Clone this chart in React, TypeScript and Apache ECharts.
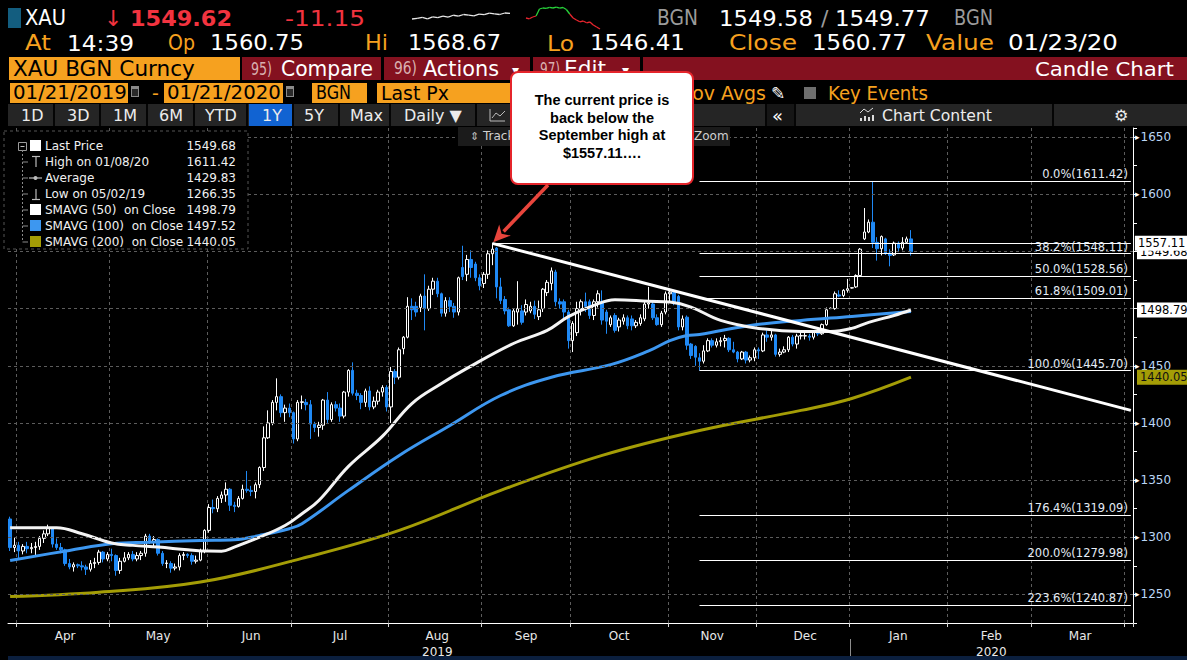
import React, { useEffect, useRef } from "react";
import * as echarts from "echarts";

// ---------- DATA ----------
const FIRST_DAY = "2019-03-28";
const LAST_DAY = "2020-04-02";

function weekdayList(from: string, to: string): string[] {
  const out: string[] = [];
  const d = new Date(from + "T00:00:00Z");
  const end = new Date(to + "T00:00:00Z");
  while (d <= end) {
    const wd = d.getUTCDay();
    if (wd !== 0 && wd !== 6) out.push(d.toISOString().slice(0, 10));
    d.setUTCDate(d.getUTCDate() + 1);
  }
  return out;
}
const categories = weekdayList(FIRST_DAY, LAST_DAY);
const monthNames = ["Jan", "Feb", "Mar", "Apr", "May", "Jun", "Jul", "Aug", "Sep", "Oct", "Nov", "Dec"];

// date, open, close, low, high
const ohlc: [string, number, number, number, number][] = [
  ["2019-03-28", 1316, 1291, 1288, 1318],
  ["2019-03-29", 1291, 1293, 1287, 1300],
  ["2019-04-01", 1293, 1288, 1281, 1296],
  ["2019-04-02", 1288, 1292, 1285, 1294],
  ["2019-04-03", 1292, 1290, 1286, 1296],
  ["2019-04-04", 1290, 1291, 1286, 1295],
  ["2019-04-05", 1291, 1292, 1284, 1296],
  ["2019-04-08", 1292, 1299, 1289, 1301],
  ["2019-04-09", 1299, 1303, 1295, 1306],
  ["2019-04-10", 1303, 1308, 1301, 1311],
  ["2019-04-11", 1308, 1294, 1291, 1309],
  ["2019-04-12", 1294, 1291, 1289, 1299],
  ["2019-04-15", 1291, 1289, 1286, 1295],
  ["2019-04-16", 1289, 1277, 1275, 1290],
  ["2019-04-17", 1277, 1274, 1272, 1281],
  ["2019-04-18", 1274, 1276, 1270, 1278],
  ["2019-04-19", 1276, 1275, 1273, 1277],
  ["2019-04-22", 1275, 1274, 1271, 1279],
  ["2019-04-23", 1274, 1272, 1267, 1276],
  ["2019-04-24", 1272, 1277, 1270, 1280],
  ["2019-04-25", 1277, 1278, 1273, 1282],
  ["2019-04-26", 1278, 1287, 1276, 1289],
  ["2019-04-29", 1287, 1281, 1278, 1288],
  ["2019-04-30", 1281, 1285, 1279, 1287],
  ["2019-05-01", 1285, 1284, 1279, 1290],
  ["2019-05-02", 1284, 1271, 1266.35, 1285],
  ["2019-05-03", 1271, 1279, 1268, 1282],
  ["2019-05-06", 1279, 1282, 1278, 1287],
  ["2019-05-07", 1282, 1285, 1280, 1287],
  ["2019-05-08", 1285, 1281, 1279, 1288],
  ["2019-05-09", 1281, 1284, 1279, 1287],
  ["2019-05-10", 1284, 1286, 1280, 1288],
  ["2019-05-13", 1286, 1301, 1283, 1303],
  ["2019-05-14", 1301, 1296, 1294, 1303],
  ["2019-05-15", 1296, 1298, 1292, 1301],
  ["2019-05-16", 1298, 1286, 1284, 1299],
  ["2019-05-17", 1286, 1277, 1275, 1288],
  ["2019-05-20", 1277, 1277.5, 1273, 1280],
  ["2019-05-21", 1277, 1273, 1269, 1279],
  ["2019-05-22", 1273, 1274, 1271, 1277],
  ["2019-05-23", 1274, 1284, 1271, 1286],
  ["2019-05-24", 1284, 1285, 1280, 1287],
  ["2019-05-27", 1285, 1284, 1282, 1286],
  ["2019-05-28", 1284, 1279, 1276, 1286],
  ["2019-05-29", 1279, 1280, 1277, 1284],
  ["2019-05-30", 1280, 1288, 1279, 1290],
  ["2019-05-31", 1288, 1306, 1286, 1307],
  ["2019-06-03", 1306, 1326, 1304, 1329],
  ["2019-06-04", 1326, 1325, 1321, 1333],
  ["2019-06-05", 1325, 1334, 1322, 1336],
  ["2019-06-06", 1334, 1337, 1330, 1340],
  ["2019-06-07", 1337, 1342, 1331, 1348],
  ["2019-06-10", 1342, 1328, 1323, 1343],
  ["2019-06-11", 1328, 1327, 1322, 1331],
  ["2019-06-12", 1327, 1334, 1326, 1336],
  ["2019-06-13", 1334, 1342, 1333, 1346],
  ["2019-06-14", 1342, 1341, 1339, 1358],
  ["2019-06-17", 1341, 1340, 1336, 1345],
  ["2019-06-18", 1340, 1346, 1334, 1348],
  ["2019-06-19", 1346, 1361, 1343, 1362],
  ["2019-06-20", 1361, 1387, 1358, 1397],
  ["2019-06-21", 1387, 1400, 1386, 1411],
  ["2019-06-24", 1400, 1418, 1398, 1420],
  ["2019-06-25", 1418, 1423, 1411, 1439],
  ["2019-06-26", 1423, 1409, 1405, 1425],
  ["2019-06-27", 1409, 1413, 1401, 1416],
  ["2019-06-28", 1413, 1409, 1405, 1417],
  ["2019-07-01", 1409, 1386, 1382, 1410],
  ["2019-07-02", 1386, 1418, 1384, 1420],
  ["2019-07-03", 1418, 1418.5, 1412, 1424],
  ["2019-07-04", 1418, 1416, 1411, 1421],
  ["2019-07-05", 1416, 1399, 1386, 1420],
  ["2019-07-08", 1399, 1396, 1392, 1401],
  ["2019-07-09", 1396, 1398, 1388, 1401],
  ["2019-07-10", 1398, 1420, 1394, 1421],
  ["2019-07-11", 1420, 1403, 1400, 1427],
  ["2019-07-12", 1403, 1416, 1401, 1418],
  ["2019-07-15", 1416, 1413, 1410, 1419],
  ["2019-07-16", 1413, 1406, 1401, 1417],
  ["2019-07-17", 1406, 1427, 1404, 1428],
  ["2019-07-18", 1427, 1446, 1423, 1447],
  ["2019-07-19", 1446, 1426, 1424, 1453],
  ["2019-07-22", 1426, 1424, 1420, 1429],
  ["2019-07-23", 1424, 1418, 1412, 1426],
  ["2019-07-24", 1418, 1428, 1414, 1430],
  ["2019-07-25", 1428, 1414, 1411, 1432],
  ["2019-07-26", 1414, 1419, 1412, 1423],
  ["2019-07-29", 1419, 1427, 1416, 1429],
  ["2019-07-30", 1427, 1431, 1423, 1433],
  ["2019-07-31", 1431, 1414, 1410, 1433],
  ["2019-08-01", 1414, 1445, 1400, 1449],
  ["2019-08-02", 1445, 1440, 1434, 1447],
  ["2019-08-05", 1440, 1464, 1438, 1466],
  ["2019-08-06", 1465, 1475, 1460, 1476],
  ["2019-08-07", 1475, 1502, 1474, 1510],
  ["2019-08-08", 1502, 1499, 1490, 1509],
  ["2019-08-09", 1502, 1497, 1493, 1506],
  ["2019-08-12", 1501, 1511, 1497, 1513],
  ["2019-08-13", 1511, 1500, 1481, 1530],
  ["2019-08-14", 1500, 1517, 1498, 1520],
  ["2019-08-15", 1517, 1524, 1512, 1527],
  ["2019-08-16", 1524, 1513, 1510, 1527],
  ["2019-08-19", 1513, 1496, 1493, 1514],
  ["2019-08-20", 1496, 1507, 1493, 1510],
  ["2019-08-21", 1507, 1502, 1497, 1510],
  ["2019-08-22", 1502, 1497, 1492, 1505],
  ["2019-08-23", 1497, 1527, 1494, 1528],
  ["2019-08-26", 1536, 1528, 1525, 1555],
  ["2019-08-27", 1530, 1543, 1524, 1547],
  ["2019-08-28", 1543, 1536, 1527, 1551],
  ["2019-08-29", 1539, 1527, 1524, 1541],
  ["2019-08-30", 1527, 1520, 1516, 1530],
  ["2019-09-02", 1522, 1530, 1518, 1532],
  ["2019-09-03", 1530, 1548, 1526, 1551],
  ["2019-09-04", 1548, 1552, 1538, 1557.11],
  ["2019-09-05", 1553, 1519, 1509, 1554],
  ["2019-09-06", 1519, 1507, 1504, 1527],
  ["2019-09-09", 1508, 1498, 1495, 1511],
  ["2019-09-10", 1499, 1485, 1484, 1501],
  ["2019-09-11", 1485, 1498, 1484, 1500],
  ["2019-09-12", 1497, 1500, 1486, 1524],
  ["2019-09-13", 1498, 1488, 1486, 1503],
  ["2019-09-16", 1497, 1503.6, 1494, 1508],
  ["2019-09-17", 1498, 1502, 1496, 1506],
  ["2019-09-18", 1502, 1495, 1491, 1507],
  ["2019-09-19", 1493, 1499, 1490, 1507],
  ["2019-09-20", 1500, 1517, 1497, 1518],
  ["2019-09-23", 1514, 1523, 1511, 1525],
  ["2019-09-24", 1522, 1533, 1516, 1536],
  ["2019-09-25", 1532, 1506, 1502, 1534],
  ["2019-09-26", 1506, 1504, 1500, 1509],
  ["2019-09-27", 1506, 1497, 1491, 1508],
  ["2019-09-30", 1497, 1472, 1465, 1499],
  ["2019-10-01", 1472, 1487, 1462, 1489],
  ["2019-10-02", 1479, 1500, 1476, 1506],
  ["2019-10-03", 1500, 1506, 1494, 1508],
  ["2019-10-04", 1506, 1502, 1497, 1514],
  ["2019-10-07", 1506, 1494, 1491, 1508],
  ["2019-10-08", 1494, 1506, 1490, 1508],
  ["2019-10-09", 1506, 1513, 1501, 1516],
  ["2019-10-10", 1506, 1490, 1486, 1516],
  ["2019-10-11", 1497, 1489, 1478, 1499],
  ["2019-10-14", 1486, 1492, 1484, 1494],
  ["2019-10-15", 1494, 1481, 1479, 1496],
  ["2019-10-16", 1484, 1490, 1480, 1492],
  ["2019-10-17", 1489, 1492, 1486, 1495],
  ["2019-10-18", 1492, 1485, 1482, 1494],
  ["2019-10-21", 1491, 1485, 1481, 1494],
  ["2019-10-22", 1485, 1488, 1483, 1490],
  ["2019-10-23", 1487, 1492, 1485, 1495],
  ["2019-10-24", 1491, 1504, 1489, 1507],
  ["2019-10-25", 1504, 1505, 1500, 1519],
  ["2019-10-28", 1504, 1492, 1490, 1506],
  ["2019-10-29", 1492, 1486, 1485, 1495],
  ["2019-10-30", 1486, 1496, 1484, 1498],
  ["2019-10-31", 1497, 1513, 1495, 1515],
  ["2019-11-01", 1513, 1514.4, 1505, 1517],
  ["2019-11-04", 1514, 1505, 1503, 1516],
  ["2019-11-05", 1510.6, 1484, 1481, 1512],
  ["2019-11-06", 1484, 1491, 1481, 1494],
  ["2019-11-07", 1492.5, 1468, 1464, 1494],
  ["2019-11-08", 1469, 1459, 1456, 1470],
  ["2019-11-11", 1467, 1457.5, 1450, 1468],
  ["2019-11-12", 1457, 1454, 1445.7, 1461],
  ["2019-11-13", 1454, 1463, 1452, 1468],
  ["2019-11-14", 1463, 1472, 1462, 1474],
  ["2019-11-15", 1472, 1468, 1466, 1474],
  ["2019-11-18", 1468, 1471, 1466, 1474],
  ["2019-11-19", 1471, 1472, 1467, 1475],
  ["2019-11-20", 1472, 1474, 1466, 1477],
  ["2019-11-21", 1474, 1464, 1462, 1475],
  ["2019-11-22", 1464, 1462, 1461, 1471],
  ["2019-11-25", 1462, 1456, 1453, 1463],
  ["2019-11-26", 1456, 1462, 1455, 1463],
  ["2019-11-27", 1462, 1455, 1452, 1463],
  ["2019-11-28", 1455, 1457, 1453, 1459],
  ["2019-11-29", 1457, 1464, 1454, 1466],
  ["2019-12-02", 1464, 1463, 1456, 1466],
  ["2019-12-03", 1463, 1477, 1462, 1479],
  ["2019-12-04", 1477, 1475, 1471, 1481],
  ["2019-12-05", 1475, 1477, 1472, 1482],
  ["2019-12-06", 1477, 1460, 1458, 1478],
  ["2019-12-09", 1460, 1462, 1458, 1465],
  ["2019-12-10", 1462, 1464, 1461, 1467],
  ["2019-12-11", 1464, 1475, 1462, 1476],
  ["2019-12-12", 1475, 1469, 1467, 1477],
  ["2019-12-13", 1469, 1476, 1465, 1478],
  ["2019-12-16", 1476, 1476.5, 1473, 1479],
  ["2019-12-17", 1476, 1476.4, 1473, 1479],
  ["2019-12-18", 1476, 1475, 1472, 1478],
  ["2019-12-19", 1475, 1479, 1473, 1481],
  ["2019-12-20", 1479, 1478, 1476, 1481],
  ["2019-12-23", 1478, 1486, 1477, 1487],
  ["2019-12-24", 1486, 1499, 1485, 1501],
  ["2019-12-25", 1500, 1500.4, 1499.8, 1501],
  ["2019-12-26", 1500, 1513, 1499, 1515],
  ["2019-12-27", 1512, 1511, 1510, 1516],
  ["2019-12-30", 1511.5, 1516, 1510, 1517],
  ["2019-12-31", 1516, 1517.4, 1514, 1526],
  ["2020-01-01", 1518, 1518.3, 1517.6, 1518.6],
  ["2020-01-02", 1519, 1529, 1518, 1530],
  ["2020-01-03", 1529, 1552, 1528, 1553],
  ["2020-01-06", 1561, 1567, 1560, 1588],
  ["2020-01-07", 1567, 1575.6, 1566, 1578],
  ["2020-01-08", 1575.6, 1558, 1553, 1611.42],
  ["2020-01-09", 1558, 1552.4, 1542, 1562.5],
  ["2020-01-10", 1552.4, 1563, 1546.5, 1564],
  ["2020-01-13", 1561, 1548, 1547, 1562],
  ["2020-01-14", 1548.5, 1546.5, 1537, 1552],
  ["2020-01-15", 1547, 1557.3, 1546, 1558.7],
  ["2020-01-16", 1557.3, 1553, 1549.4, 1558.7],
  ["2020-01-17", 1553, 1558, 1551, 1562.5],
  ["2020-01-20", 1558, 1561, 1556.7, 1563],
  ["2020-01-21", 1561, 1549.68, 1546.41, 1568.67],
];

// moving averages: [category index, value]
const sma50: [number, number][] = [
  [0, 1308.3], [11, 1308.3], [17, 1303.1], [24, 1295], [29, 1292.9], [35, 1291.4], [42, 1289.1],
  [47, 1287.9], [50, 1287.8], [53, 1291.4], [59, 1300.1], [65, 1310.3], [69, 1320.6], [73, 1332.2],
  [80, 1362], [88, 1388.2], [95, 1417], [102, 1434.5], [108, 1447.7], [119, 1469.5], [127, 1481],
  [132, 1493], [138, 1502.8], [143, 1507.8], [151, 1506.5], [156, 1505.7], [161, 1501.3],
  [168, 1489.7], [177, 1482.7], [187, 1480], [194, 1480], [199, 1482.7], [203, 1488], [209, 1494],
  [213, 1498.79],
];
const sma100: [number, number][] = [
  [0, 1279.7], [14, 1288.5], [24, 1294.3], [33, 1295.7], [45, 1297.2], [53, 1297.8], [59, 1301.6],
  [66, 1307.5], [69, 1311.8], [80, 1341], [92, 1371.6], [104, 1397.8], [116, 1424], [128, 1440],
  [142, 1451], [151, 1463], [156, 1472], [160, 1476.5], [163, 1477.4], [175, 1485.3],
  [187, 1489.7], [199, 1493.2], [213, 1497.52],
];
const sma200: [number, number][] = [
  [0, 1248.2], [21, 1252], [45, 1260.8], [69, 1281.5], [92, 1306], [116, 1341], [140, 1371.6],
  [163, 1393.4], [187, 1411], [199, 1421.4], [213, 1440.05],
];

const gridLevels = [1250, 1300, 1350, 1400, 1450, 1500, 1550, 1600, 1650];
const hiddenAxisLabels = [1500, 1550]; // covered by the price tags in the picture
const fibPcts = ["0.0%", "38.2%", "50.0%", "61.8%", "100.0%", "176.4%", "200.0%", "223.6%"];
const fibLevels = [1611.42, 1548.11, 1528.56, 1509.01, 1445.7, 1319.09, 1279.98, 1240.87];
const fibStartDate = "2019-11-12";
const septHighDate = "2019-09-04";
const septHigh = 1557.11;
const trendEndValue = 1411;
const lastPrice = 1549.68;
const sma50Last = 1498.79;
const sma200Last = 1440.05;

const legendLabels = ["Last Price", "High on 01/08/20", "Average", "Low on 05/02/19", "SMAVG (50)  on Close", "SMAVG (100)  on Close", "SMAVG (200)  on Close"];
const legendValues = ["1549.68", "1611.42", "1429.83", "1266.35", "1498.79", "1497.52", "1440.05"];

const sparkPrev = [1557, 1557.5, 1558.5, 1557.2, 1559, 1558.2, 1559.6, 1558.8, 1560.5, 1559.7, 1561.2, 1560.6, 1560, 1561.6, 1561, 1562.4, 1561.8, 1561.2, 1562.6, 1562.2];
const sparkToday = [1557, 1556.2, 1558, 1559, 1566, 1567, 1566.6, 1567.6, 1567, 1567.8, 1566.8, 1567.5, 1565.5, 1561, 1557, 1555, 1553.2, 1554, 1552.2, 1553, 1550, 1548, 1546];
const prevClose = 1560.77;

// ---------- STYLE ----------
const FONT = "'DejaVu Sans', 'Noto Sans', sans-serif";
const ARIAL = "'Liberation Sans', Arial, sans-serif";
const ORANGE = "#f6a11f";
const DARKRED = "#84111f";
const RED = "#f2333f";
const UP = "#ffffff";
const DOWN = "#1f89f5";
const BLUE_MA = "#3d97f0";
const OLIVE = "#a49d06";
const CLEAR = "rgba(0,0,0,0)";

function isMonthStart(i: number) {
  if (i === 0) return false;
  return categories[i].slice(0, 7) !== categories[i - 1].slice(0, 7);
}
const monthStartSet = new Set<number>();
categories.forEach((_, i) => { if (isMonthStart(i)) monthStartSet.add(i); });
const labelSet = new Set<number>();
(() => {
  const starts = [...monthStartSet].sort((a, b) => a - b);
  for (let k = 0; k < starts.length - 1; k++) {
    labelSet.add(Math.floor((starts[k] + starts[k + 1]) / 2));
  }
})();

function buildOption(): any {
  const byDate = new Map(ohlc.map((r) => [r[0], [r[1], r[2], r[3], r[4]]]));
  const candleData = categories.map((c) => byDate.get(c) || "-");
  const lastCat = categories[categories.length - 1];

  const fibLines = fibLevels.map((lv, i) => [
    {
      coord: [fibStartDate, lv],
      lineStyle: { color: "#ffffff", width: 1, type: "solid" },
      label: {
        show: true, position: "insideEndTop", formatter: `${fibPcts[i]}(${lv.toFixed(2)})`,
        color: "#e4ecf6", fontSize: 11.5, fontFamily: FONT, distance: [3, 1],
      },
    },
    { coord: [lastCat, lv] },
  ]);

  const tagLabel = (txt: string, bg: string, fg: string) => ({
    show: true, position: "end", formatter: txt, backgroundColor: bg, color: fg,
    fontSize: 11.5, fontFamily: FONT, padding: [2, 12, 1, 3], distance: 4,
  });

  return {
    animation: false,
    backgroundColor: "#000",
    grid: { left: 8, right: 54, top: 128, bottom: 37, containLabel: false },
    xAxis: {
      type: "category",
      data: categories,
      boundaryGap: true,
      axisLine: { lineStyle: { color: "#ffffff", width: 1 } },
      axisTick: { show: true, interval: (i: number) => monthStartSet.has(i), length: 4, lineStyle: { color: "#d8d8d8" } },
      axisLabel: {
        interval: (i: number) => labelSet.has(i),
        formatter: (v: string) => {
          const m = monthNames[parseInt(v.slice(5, 7), 10) - 1];
          if (v.startsWith("2019-08")) return m + "\n2019";
          if (v.startsWith("2020-02")) return m + "\n2020";
          return m;
        },
        color: "#e8e8e8", fontSize: 12, fontFamily: FONT, margin: 5, lineHeight: 16,
      },
      splitLine: { show: true, interval: (i: number) => monthStartSet.has(i), lineStyle: { color: "#5c5c5c", type: [3, 3], width: 1 } },
    },
    yAxis: {
      type: "value",
      position: "right",
      min: 1225,
      max: 1658,
      interval: 25,
      axisLine: { show: true, lineStyle: { color: "#ffffff" } },
      axisTick: { show: true, length: 4, lineStyle: { color: "#ffffff" } },
      axisLabel: {
        margin: 2,
        formatter: (v: number) => (v % 50 === 0 && !hiddenAxisLabels.includes(v) ? `{a|▸}{b|${v}}` : ""),
        rich: {
          a: { color: "#ffffff", fontSize: 9, fontFamily: FONT, padding: [0, 1, 0, 0] },
          b: { color: "#bcd6f5", fontSize: 12, fontFamily: FONT },
        },
      },
      splitLine: { show: false },
    },
    series: [
      {
        type: "line", data: [], z: 1, silent: true,
        markLine: {
          silent: true, symbol: ["none", "none"], animation: false,
          label: { show: false },
          lineStyle: { color: "#5c5c5c", type: [3, 3], width: 1 },
          data: gridLevels.map((v) => ({ yAxis: v })),
        },
      },
      {
        type: "candlestick", data: candleData, barWidth: 3, z: 3, silent: true,
        itemStyle: { color: "#000000", color0: DOWN, borderColor: UP, borderColor0: DOWN, borderWidth: 1 },
      },
      { type: "line", data: sma200, showSymbol: false, smooth: 0.4, z: 4, silent: true, lineStyle: { color: OLIVE, width: 3 } },
      { type: "line", data: sma100, showSymbol: false, smooth: 0.4, z: 4, silent: true, lineStyle: { color: BLUE_MA, width: 3 } },
      { type: "line", data: sma50, showSymbol: false, smooth: 0.4, z: 4, silent: true, lineStyle: { color: "#f4f4f4", width: 3 } },
      {
        type: "line", data: [], z: 6, silent: true,
        markLine: {
          silent: true, symbol: ["none", "none"], animation: false,
          data: [
            ...fibLines,
            { yAxis: sma200Last, lineStyle: { color: CLEAR, width: 1 }, label: tagLabel(sma200Last.toFixed(2), OLIVE, "#111") },
            { yAxis: sma50Last, lineStyle: { color: CLEAR, width: 1 }, label: tagLabel(sma50Last.toFixed(2), "#ffffff", "#000") },
            { yAxis: lastPrice, lineStyle: { color: CLEAR, width: 1 }, label: tagLabel(lastPrice.toFixed(2), "#ffffff", "#000") },
            [
              { coord: [septHighDate, septHigh], lineStyle: { color: "#ffffff", width: 1, type: "solid" }, label: tagLabel(septHigh.toFixed(2), "#ffffff", "#000") },
              { coord: [lastCat, septHigh] },
            ],
            [
              { coord: [septHighDate, septHigh], lineStyle: { color: "#ffffff", width: 3, type: "solid" }, label: { show: false } },
              { coord: [lastCat, trendEndValue] },
            ],
          ],
        },
      },
    ],
  };
}

// ---------- CHROME ----------
let measureCtx: CanvasRenderingContext2D | null = null;
function measure(text: string, size: number, family: string, weight: string) {
  if (!measureCtx) measureCtx = document.createElement("canvas").getContext("2d");
  if (!measureCtx) return 0;
  measureCtx.font = `${weight} ${size}px ${family}`;
  return measureCtx.measureText(text).width;
}

function T(x: number, y: number, text: string, fill: string, size: number, o: any = {}) {
  const family = o.family || FONT;
  const weight = o.weight || "normal";
  let sx = 1;
  if (o.w) {
    const m = measure(text, size, family, weight);
    if (m > 0) sx = o.w / m;
  }
  return {
    type: "text", x, y, z: o.z || 110, silent: true, scaleX: sx,
    style: {
      text, fill, fontSize: size, fontFamily: family, fontWeight: weight,
      textAlign: o.align || "left", textVerticalAlign: "middle",
    },
  };
}
function R(x: number, y: number, w: number, h: number, fill: string, o: any = {}) {
  return {
    type: "rect", z: o.z || 105, silent: true,
    shape: { x, y, width: w, height: h, r: o.r || 0 },
    style: { fill, stroke: o.stroke || null, lineWidth: o.lw || 0, lineDash: o.dash || null },
  };
}
function L(x1: number, y1: number, x2: number, y2: number, stroke: string, w = 1, o: any = {}) {
  return {
    type: "line", z: o.z || 108, silent: true,
    shape: { x1, y1, x2, y2 },
    style: { stroke, lineWidth: w, lineDash: o.dash || null },
  };
}

function sparkLines(vals: number[], x0: number, x1: number, yTop: number, yBot: number, lo: number, hi: number, colorFn: (a: number, b: number) => string) {
  const pts = vals.map((v, i) => [x0 + (i * (x1 - x0)) / (vals.length - 1), yBot - ((v - lo) / (hi - lo)) * (yBot - yTop)]);
  const out: any[] = [];
  for (let i = 0; i < pts.length - 1; i++) {
    out.push({
      type: "polyline", z: 110, silent: true,
      shape: { points: [pts[i], pts[i + 1]] },
      style: { stroke: colorFn(vals[i], vals[i + 1]), lineWidth: 1.3, fill: null },
    });
  }
  return out;
}

function buildGraphics(chart: any): any[] {
  const g: any[] = [];
  // ----- header row 1
  g.push(R(8, 8, 13, 20, "#135d7f"));
  g.push(T(25, 18, "XAU", "#ffffff", 22, { w: 41 }));
  g.push(T(104, 18, "↓", RED, 22));
  g.push(T(130, 18, "1549.62", RED, 22, { weight: "bold", w: 102 }));
  g.push(T(285, 18, "-11.15", RED, 22, { w: 80 }));
  g.push(...sparkLines(sparkPrev, 412, 510, 13, 19, 1557, 1562.6, () => "#e8e8e8"));
  g.push(...sparkLines(sparkToday, 526, 600, 7, 29, 1546, 1568, (a, b) => ((a + b) / 2 >= prevClose ? "#27d23a" : "#e8252e")));
  g.push(T(657, 18, "BGN", "#9b9b9b", 21, { w: 41 }));
  g.push(T(719, 18, "1549.58", "#ffffff", 22, { w: 94 }));
  g.push(T(821, 18, "/", "#9b9b9b", 22));
  g.push(T(835, 18, "1549.77", "#ffffff", 22, { w: 95 }));
  g.push(T(954, 18, "BGN", "#9b9b9b", 21, { w: 39 }));
  // ----- header row 2
  const r2: [number, string, boolean, number][] = [
    [25, "At", true, 26], [67, "14:39", false, 67], [168, "Op", true, 27], [210, "1560.75", false, 94],
    [365, "Hi", true, 23], [408, "1568.67", false, 93], [547, "Lo", true, 27], [590, "1546.41", false, 95],
    [729, "Close", true, 68], [812, "1560.77", false, 95], [926, "Value", true, 68], [1008, "01/23/20", false, 110],
  ];
  r2.forEach(([x, s, lab, w]) => g.push(T(x, 43, s, lab ? ORANGE : "#ffffff", 21, { w })));
  // ----- row 3
  g.push(R(9, 57, 231, 23, ORANGE));
  g.push(T(13, 69, "XAU BGN Curncy", "#000", 21, { w: 182 }));
  g.push(R(242, 57, 139, 23, DARKRED));
  g.push(T(251, 69, "95)", "#d9b0b0", 17, { w: 21 }));
  g.push(T(281, 69, "Compare", "#ffffff", 21, { w: 92 }));
  g.push(R(384, 57, 146, 23, DARKRED));
  g.push(T(394, 69, "96)", "#d9b0b0", 17, { w: 23 }));
  g.push(T(423, 69, "Actions", "#ffffff", 21, { w: 76 }));
  g.push(T(512, 70, "▾", "#ffffff", 14));
  g.push(R(533, 57, 107, 23, DARKRED));
  g.push(T(540, 69, "97)", "#d9b0b0", 17, { w: 20 }));
  g.push(T(564, 69, "Edit", "#ffffff", 21, { w: 42 }));
  g.push(T(622, 70, "▾", "#ffffff", 14));
  g.push(R(643, 57, 544, 23, DARKRED));
  g.push(T(1035, 69, "Candle Chart", "#ffffff", 20, { w: 139 }));
  // ----- row 4
  g.push(R(10, 83, 118, 20, ORANGE));
  g.push(T(13, 93, "01/21/2019", "#000", 19, { w: 114 }));
  g.push(R(131, 86, 8, 11, "#8a8a8a"));
  g.push(R(132, 89, 6, 7, "#2a2a2a"));
  g.push(T(152, 93, "-", ORANGE, 19));
  g.push(R(164, 83, 119, 20, ORANGE));
  g.push(T(167, 93, "01/21/2020", "#000", 19, { w: 114 }));
  g.push(R(286, 86, 8, 11, "#8a8a8a"));
  g.push(R(287, 89, 6, 7, "#2a2a2a"));
  g.push(R(312, 83, 55, 20, ORANGE));
  g.push(T(316, 93, "BGN", "#000", 19, { w: 35 }));
  g.push(R(377, 83, 135, 20, ORANGE));
  g.push(T(381, 93, "Last Px", "#000", 19, { w: 68 }));
  g.push(T(676, 93, "Mov Avgs", ORANGE, 19, { w: 90 }));
  g.push(T(771, 93, "✎", "#ffffff", 17));
  g.push(R(804, 87, 12, 12, "#6e6e6e"));
  g.push(T(828, 93, "Key Events", ORANGE, 19, { w: 100 }));
  // ----- row 5
  g.push(R(8, 104, 1179, 22, "#252525"));
  [54, 100, 147, 194, 247, 293, 339, 390, 476, 766, 795, 1053].forEach((x) => g.push(L(x, 104, x, 126, "#050505", 2)));
  g.push(R(249, 104, 43, 22, "#1163d2"));
  const tabs: [number, string][] = [[21, "1D"], [67, "3D"], [113, "1M"], [159, "6M"], [205, "YTD"], [262, "1Y"], [304, "5Y"], [350, "Max"], [404, "Daily ▼"]];
  tabs.forEach(([x, s]) => g.push(T(x, 115, s, "#ececec", 16)));
  g.push({ type: "polyline", z: 110, silent: true, shape: { points: [[490, 109], [490, 121], [505, 121]] }, style: { stroke: "#bbbbbb", lineWidth: 1, fill: null } });
  g.push({ type: "polyline", z: 110, silent: true, shape: { points: [[492, 118], [496, 113], [500, 116], [505, 111]] }, style: { stroke: "#bbbbbb", lineWidth: 1, fill: null } });
  g.push(R(767, 104, 28, 22, "#161616"));
  g.push(T(772, 115, "«", "#ffffff", 18));
  g.push({ type: "polyline", z: 110, silent: true, shape: { points: [[860, 113], [864, 109], [868, 112], [873, 108]] }, style: { stroke: "#dddddd", lineWidth: 1, fill: null } });
  [[860, 118, 3], [864, 116, 5], [868, 117, 4], [872, 115, 6]].forEach(([x, y, h]) => g.push(R(x, y, 2, h, "#dddddd", { z: 110 })));
  g.push(T(882, 115, "Chart Content", "#ececec", 16, { w: 110 }));
  g.push(T(1114, 115, "⚙", "#ececec", 16));
  // floating tool strip (partly hidden by note)
  g.push(R(458, 127, 272, 19, "#1b1b1b"));
  g.push(T(470, 136, "⇕", "#bdbdbd", 11));
  g.push(T(483, 136, "Track", "#d0d0d0", 12));
  g.push(T(694, 136, "Zoom", "#d0d0d0", 12));

  // ----- legend box
  g.push(R(4, 131, 244, 118, "#000", { stroke: "#555", lw: 1, dash: [3, 3], z: 104 }));
  const rowsY = [146, 162, 178, 194, 210, 226, 242];
  g.push(L(22.5, 150, 22.5, 242, "#8a8a8a", 1, { dash: [2, 2] }));
  rowsY.slice(1).forEach((y) => g.push(L(22.5, y, 28, y, "#8a8a8a", 1)));
  g.push(R(18.5, 142.5, 8, 8, "#000", { stroke: "#9a9a9a", lw: 1 }));
  g.push(L(20.5, 146.5, 24.5, 146.5, "#bbbbbb", 1));
  g.push(R(30, 140, 11, 11, "#ffffff"));
  g.push(L(32, 156.5, 40, 156.5, "#bbbbbb", 1.2));
  g.push(L(36, 156.5, 36, 167, "#bbbbbb", 1.2));
  g.push(L(29, 178, 42, 178, "#bbbbbb", 1.2));
  g.push({ type: "circle", z: 109, silent: true, shape: { cx: 35.5, cy: 178, r: 2 }, style: { fill: "#bbbbbb" } });
  g.push(L(36, 189, 36, 199.5, "#bbbbbb", 1.2));
  g.push(L(32, 199.5, 40, 199.5, "#bbbbbb", 1.2));
  g.push(R(30, 204, 11, 11, "#ffffff"));
  g.push(R(30, 220, 11, 11, BLUE_MA));
  g.push(R(30, 236, 11, 11, OLIVE));
  legendLabels.forEach((s, i) => {
    g.push(T(45, rowsY[i], s, "#f0f0f0", 12));
    g.push(T(236, rowsY[i], legendValues[i], "#f0f0f0", 12, { align: "right" }));
  });

  // ----- bottom
  const band = (1187 - 8 - 54) / categories.length;
  const jan = chart.convertToPixel({ gridIndex: 0 }, ["2020-01-01", 1400]);
  const yearX = Math.round(jan[0] - band / 2) + 0.5;
  g.push(L(yearX, 639, yearX, 656, "#8d8d8d", 1));
  g.push(R(8, 656, 1179, 4, "#0b1f3e"));

  // ----- annotation
  const peak = chart.convertToPixel({ gridIndex: 0 }, [septHighDate, septHigh]);
  g.push(R(511, 72, 182, 112, "#ffffff", { stroke: "#e5252b", lw: 2, r: 7, z: 120 }));
  ["The current price is", "back below the", "September high at", "$1557.11…."].forEach((s, i) =>
    g.push(T(602, 100 + i * 17.7, s, "#000", 14.5, { family: ARIAL, weight: "bold", align: "center", z: 121 }))
  );
  const tail = [548, 185];
  const tip = [peak[0] + 1, peak[1] - 1];
  const dx = tip[0] - tail[0], dy = tip[1] - tail[1];
  const len = Math.sqrt(dx * dx + dy * dy);
  const ux = dx / len, uy = dy / len;
  const hl = 17, hw = 8;
  const bx = tip[0] - ux * hl, by = tip[1] - uy * hl;
  g.push(L(tail[0], tail[1], bx + ux * 2, by + uy * 2, "#e8453c", 3.5, { z: 122 }));
  g.push({
    type: "polygon", z: 123, silent: true,
    shape: { points: [tip, [bx - uy * hw, by + ux * hw], [bx + ux * 5, by + uy * 5], [bx + uy * hw, by - ux * hw]] },
    style: { fill: "#e8453c" },
  });
  return g;
}

export default function App() {
  const ref = useRef<HTMLDivElement>(null);
  useEffect(() => {
    const chart = echarts.init(ref.current!, null, { renderer: "svg" });
    chart.setOption(buildOption());
    chart.setOption({ graphic: { elements: buildGraphics(chart) } });
    return () => chart.dispose();
  }, []);
  return (
    <div
      ref={ref}
      style={{ position: "fixed", left: 0, top: 0, width: 1187, height: 660, background: "#000" }}
    />
  );
}
